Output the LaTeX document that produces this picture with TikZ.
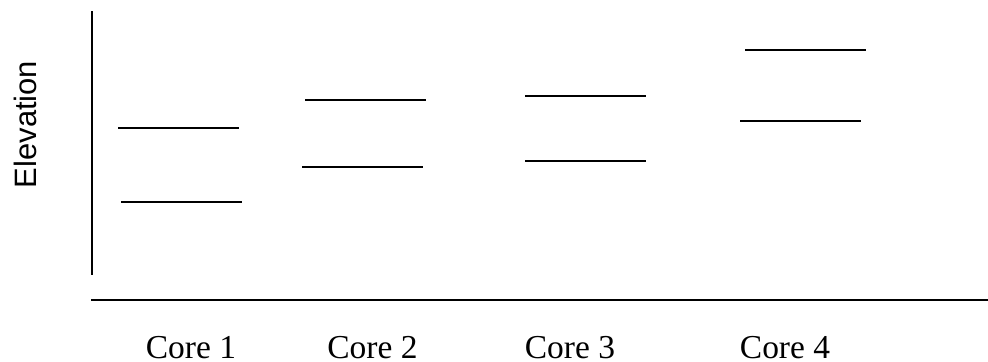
\documentclass[tikz,border=0pt]{standalone}
\usepackage{fontspec}
\setmainfont{Liberation Serif}
\newfontfamily\elevfont{Liberation Sans}

\tikzset{
  axis/.style={line width=1.4pt},
  layer/.style={line width=1.4pt},
  corelabel/.style={anchor=base, inner sep=0pt, font=\fontsize{23.8}{28}\selectfont}
}

\begin{document}
\begin{tikzpicture}[x=0.025cm, y=-0.025cm]
\useasboundingbox (0,0) rectangle (988,362);
\coordinate (ytop) at (92,11);
\coordinate (ybot) at (92,275);
\coordinate (xleft) at (91,300);
\coordinate (xright) at (988,300);
\draw[axis] (ytop) -- (ybot);
\draw[axis] (xleft) -- (xright);
\node[rotate=90, anchor=base, inner sep=0pt, font=\elevfont\fontsize{22}{26}\selectfont] (elev) at (36,124.5) {Elevation};
\draw[layer] (118,127.7) -- (239,127.7);
\draw[layer] (121,202) -- (242,202);
\draw[layer] (305,100.3) -- (426,100.3);
\draw[layer] (302,167) -- (423,167);
\draw[layer] (525,96.3) -- (646,96.3);
\draw[layer] (525,161.3) -- (646,161.3);
\draw[layer] (745,49.7) -- (866,49.7);
\draw[layer] (740,121) -- (861,121);
\node[corelabel] (c1) at (191,358) {Core 1};
\node[corelabel] (c2) at (372.5,358) {Core 2};
\node[corelabel] (c3) at (570,358) {Core 3};
\node[corelabel] (c4) at (785,358) {Core 4};
\end{tikzpicture}
\end{document}
